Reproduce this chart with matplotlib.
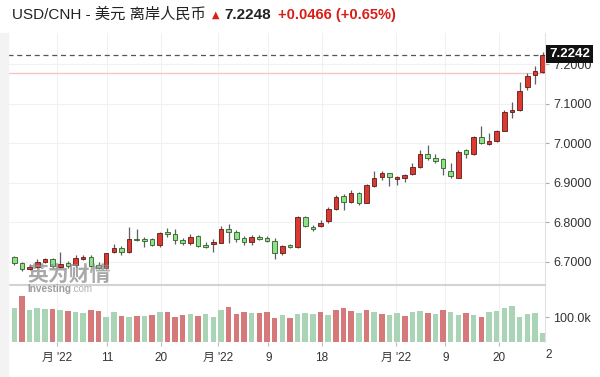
import matplotlib
matplotlib.use("Agg")
import matplotlib.pyplot as plt
from matplotlib.patches import Rectangle

plt.rcParams['font.family'] = ['Liberation Sans', 'Noto Sans CJK SC', 'DejaVu Sans']

# daily candles (open, high, low, close)
opens = [6.711, 6.696, 6.681, 6.688, 6.700, 6.706, 6.688, 6.698, 6.692, 6.707,
         6.713, 6.692, 6.684, 6.724, 6.736, 6.724, 6.758, 6.757, 6.757, 6.742,
         6.775, 6.770, 6.755, 6.748, 6.766, 6.742, 6.746, 6.748, 6.783, 6.775,
         6.761, 6.750, 6.762, 6.760, 6.753, 6.722, 6.742, 6.737, 6.813, 6.789,
         6.791, 6.802, 6.833, 6.866, 6.852, 6.875, 6.850, 6.893, 6.915, 6.924,
         6.909, 6.913, 6.922, 6.939, 6.973, 6.962, 6.959, 6.930, 6.913, 6.983,
         6.973, 7.015, 6.998, 7.006, 7.032, 7.079, 7.083, 7.143, 7.173, 7.180]
highs = [6.715, 6.700, 6.694, 6.708, 6.710, 6.710, 6.724, 6.703, 6.717, 6.716,
         6.716, 6.699, 6.723, 6.744, 6.740, 6.789, 6.782, 6.762, 6.759, 6.775,
         6.785, 6.782, 6.760, 6.771, 6.768, 6.750, 6.757, 6.791, 6.795, 6.780,
         6.765, 6.768, 6.768, 6.764, 6.760, 6.743, 6.745, 6.816, 6.815, 6.792,
         6.805, 6.838, 6.870, 6.872, 6.881, 6.877, 6.896, 6.931, 6.931, 6.926,
         6.918, 6.923, 6.950, 6.983, 6.996, 6.973, 6.962, 6.950, 6.982, 6.985,
         7.018, 7.044, 7.025, 7.034, 7.083, 7.105, 7.154, 7.177, 7.196, 7.232]
lows = [6.693, 6.677, 6.678, 6.683, 6.697, 6.684, 6.684, 6.684, 6.688, 6.705,
        6.686, 6.681, 6.681, 6.722, 6.718, 6.721, 6.752, 6.737, 6.740, 6.737,
        6.763, 6.745, 6.743, 6.743, 6.738, 6.735, 6.726, 6.747, 6.748, 6.751,
        6.743, 6.743, 6.754, 6.750, 6.708, 6.717, 6.734, 6.735, 6.789, 6.777,
        6.787, 6.799, 6.832, 6.832, 6.850, 6.845, 6.848, 6.890, 6.906, 6.892,
        6.894, 6.902, 6.920, 6.937, 6.958, 6.950, 6.919, 6.912, 6.911, 6.963,
        6.970, 6.998, 6.995, 7.003, 7.031, 7.063, 7.082, 7.135, 7.150, 7.179]
closes = [6.698, 6.682, 6.688, 6.700, 6.706, 6.689, 6.694, 6.690, 6.710, 6.713,
          6.690, 6.684, 6.721, 6.736, 6.724, 6.758, 6.755, 6.753, 6.742, 6.772,
          6.770, 6.755, 6.748, 6.763, 6.741, 6.737, 6.750, 6.783, 6.775, 6.758,
          6.749, 6.763, 6.758, 6.753, 6.721, 6.740, 6.738, 6.813, 6.791, 6.783,
          6.799, 6.833, 6.865, 6.852, 6.875, 6.850, 6.894, 6.913, 6.924, 6.914,
          6.914, 6.919, 6.941, 6.973, 6.962, 6.956, 6.937, 6.917, 6.978, 6.973,
          7.015, 7.000, 7.007, 7.031, 7.080, 7.084, 7.133, 7.170, 7.183, 7.2242]

# volume in thousands, and bar colour flags (r / g)
volumes = [135, 183, 127, 137, 134, 134, 130, 123, 119, 116,
           127, 123, 100, 119, 105, 100, 105, 106, 108, 119,
           119, 100, 110, 112, 106, 112, 100, 130, 139, 112,
           119, 116, 116, 119, 96, 108, 96, 112, 116, 112,
           119, 110, 127, 137, 123, 116, 127, 119, 112, 108,
           116, 105, 119, 123, 116, 112, 127, 119, 110, 116,
           108, 102, 120, 124, 137, 143, 100, 114, 116, 36]
vol_dir = "grgggrgrggrrggrgrgrgrrrgrgggrrrgrrrgrg" + "ggrgrrrgrgrggrggrgrggrgrgggggggg"

last_price = 7.2242
prev_close = 7.1782
price_ticks = [6.7, 6.8, 6.9, 7.0, 7.1, 7.2]
date_pos = [5.58, 12.1, 19.16, 26.67, 33.2, 40.2, 49.8, 56.3, 63.3]
date_labels = ["月 '22", "11", "20", "月 '22", "9", "18", "月 '22", "9", "20"]

W, H = 600, 377
fig = plt.figure(figsize=(W / 100, H / 100), dpi=100)
fig.patch.set_facecolor('white')


def fx(px):
    return px / W


def fy(py):
    return 1 - py / H


# grey page strip on the left
fig.patches.append(Rectangle((0, 0), fx(8), fy(33), transform=fig.transFigure,
                             color='#f3f3f3', zorder=0))

ax = fig.add_axes([fx(8), fy(285), fx(545) - fx(8), fy(33) - fy(285)])
axv = fig.add_axes([fx(8), fy(342), fx(545) - fx(8), fy(285) - fy(342)], sharex=ax)

red_fill, red_edge = '#dc3a30', '#5c1c16'
grn_fill, grn_edge = '#8fe086', '#2f5e2b'

n = len(opens)
xs = list(range(n))
for i in xs:
    o, h, l, c = opens[i], highs[i], lows[i], closes[i]
    up = c >= o
    ax.vlines(i, l, h, color='#5f5f5f', lw=0.9, zorder=2)
    ax.bar(i, max(abs(c - o), 0.0025), bottom=min(o, c), width=0.6,
           color=red_fill if up else grn_fill,
           edgecolor=red_edge if up else grn_edge, lw=0.6, zorder=3)

ax.axhline(prev_close, color='#f2c9c2', lw=1.0, zorder=1)
ax.axhline(last_price, color='#555555', lw=0.9, ls=(0, (4, 3)), zorder=1)

ax.set_xlim(-0.82, 69.31)
ax.set_ylim(6.6412, 7.2792)
ax.yaxis.tick_right()
ax.set_yticks(price_ticks)
ax.set_yticklabels(["%.4f" % t for t in price_ticks])
ax.tick_params(axis='y', length=3, color='#aaaaaa', labelsize=9, labelcolor='#333333', pad=3)
ax.tick_params(axis='x', length=0, labelbottom=False)
ax.set_xticks(date_pos)
ax.grid(True, color='#f1f1f1', lw=0.8)
ax.set_axisbelow(True)
for s in ['top', 'left', 'bottom']:
    ax.spines[s].set_visible(False)
ax.spines['right'].set_color('#e2e2e2')

vcols = ['#d6797b' if d == 'r' else '#a9d5b6' for d in vol_dir]
axv.bar(xs, volumes, width=0.72, color=vcols, zorder=2)
axv.set_ylim(0, 228)
axv.yaxis.tick_right()
axv.set_yticks([100])
axv.set_yticklabels(["100.0k"])
axv.tick_params(axis='y', length=3, color='#aaaaaa', labelsize=9, labelcolor='#333333', pad=3)
axv.set_xticks(date_pos)
axv.set_xticklabels(date_labels)
axv.tick_params(axis='x', length=3, color='#bbbbbb', labelsize=8.5, labelcolor='#333333', pad=4)
axv.grid(True, axis='x', color='#f1f1f1', lw=0.8)
axv.set_axisbelow(True)
for s in ['left', 'bottom']:
    axv.spines[s].set_visible(False)
axv.spines['top'].set_color('#d3d3d3')
axv.spines['top'].set_linewidth(1.5)
axv.spines['right'].set_color('#e2e2e2')
fig.text(fx(545), fy(355), "2", fontsize=8.5, color='#333333', va='center', ha='left')

# watermark
fig.text(fx(27), fy(275), "英为财情", fontsize=15, fontweight='bold', color='#8c8c8c',
         alpha=0.75, va='center', ha='left', zorder=5)
fig.text(fx(27), fy(289), "Investing", fontsize=7.2, fontweight='bold', color='#8c8c8c',
         alpha=0.85, va='center', ha='left', zorder=5)
fig.text(fx(71), fy(289.5), ".com", fontsize=7, color='#b0b0b0',
         va='center', ha='left', zorder=5)

# current price box
fig.text(fx(549), fy(54), "%.4f" % last_price, fontsize=9.5, fontweight='bold', color='white',
         va='center', ha='left', zorder=6,
         bbox=dict(boxstyle='square,pad=0.25', facecolor='#111111', edgecolor='none'))

# header
fig.text(fx(12), fy(15), "USD/CNH - 美元 离岸人民币", fontsize=11, color='#222222',
         va='center', ha='left')
fig.text(fx(212), fy(15), "▲", fontsize=7, color='#d91e18', va='center', ha='left',
         family='DejaVu Sans')
fig.text(fx(224), fy(15), "7.2248", fontsize=11, fontweight='bold', color='#222222',
         va='center', ha='left')
fig.text(fx(278), fy(15), "+0.0466 (+0.65%)", fontsize=10.5, fontweight='bold', color='#d91e18',
         va='center', ha='left')

fig.savefig("out.png", dpi=100)
